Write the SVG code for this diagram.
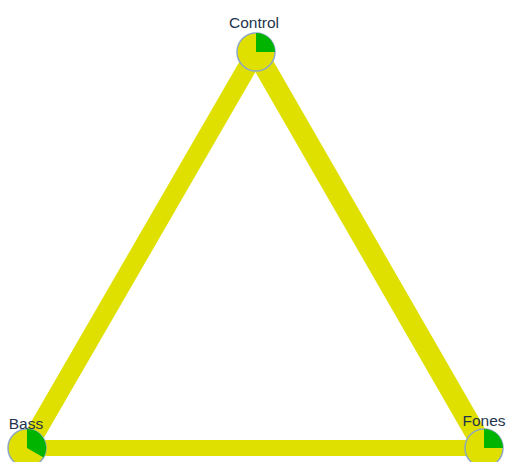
<svg xmlns="http://www.w3.org/2000/svg" width="508" height="462" viewBox="0 0 508 462">
<style>
.edge{stroke:#e0e000;stroke-linecap:butt;fill:none}
.pie{fill:#e0e000;stroke:#8ea8c3;stroke-width:1.5}
.slice{fill:#00b400}
.lbl{font-family:"Liberation Sans",Arial,sans-serif;font-size:15.5px;fill:#24344a;text-anchor:middle}
</style>
<rect width="508" height="462" fill="#ffffff"/>
<g id="edges">
<line class="edge" x1="256" y1="52" x2="27" y2="448" stroke-width="19"/>
<line class="edge" x1="256" y1="52" x2="484" y2="448" stroke-width="21"/>
<line class="edge" x1="27" y1="448" x2="484" y2="448" stroke-width="16"/>
</g>
<g id="node-control">
<circle class="pie" cx="256" cy="52" r="19"/>
<path class="slice" d="M256,52 L256,33 A19,19 0 0 1 275,52 Z"/>
<text class="lbl" x="254" y="28">Control</text>
</g>
<g id="node-bass">
<circle class="pie" cx="27" cy="448" r="19"/>
<path class="slice" d="M27,448 L27,429 A19,19 0 0 1 43.5,457.5 Z"/>
<text class="lbl" x="26" y="429">Bass</text>
</g>
<g id="node-fones">
<circle class="pie" cx="484" cy="448" r="19"/>
<path class="slice" d="M484,448 L484,429 A19,19 0 0 1 503,448 Z"/>
<text class="lbl" x="484" y="426">Fones</text>
</g>
</svg>
